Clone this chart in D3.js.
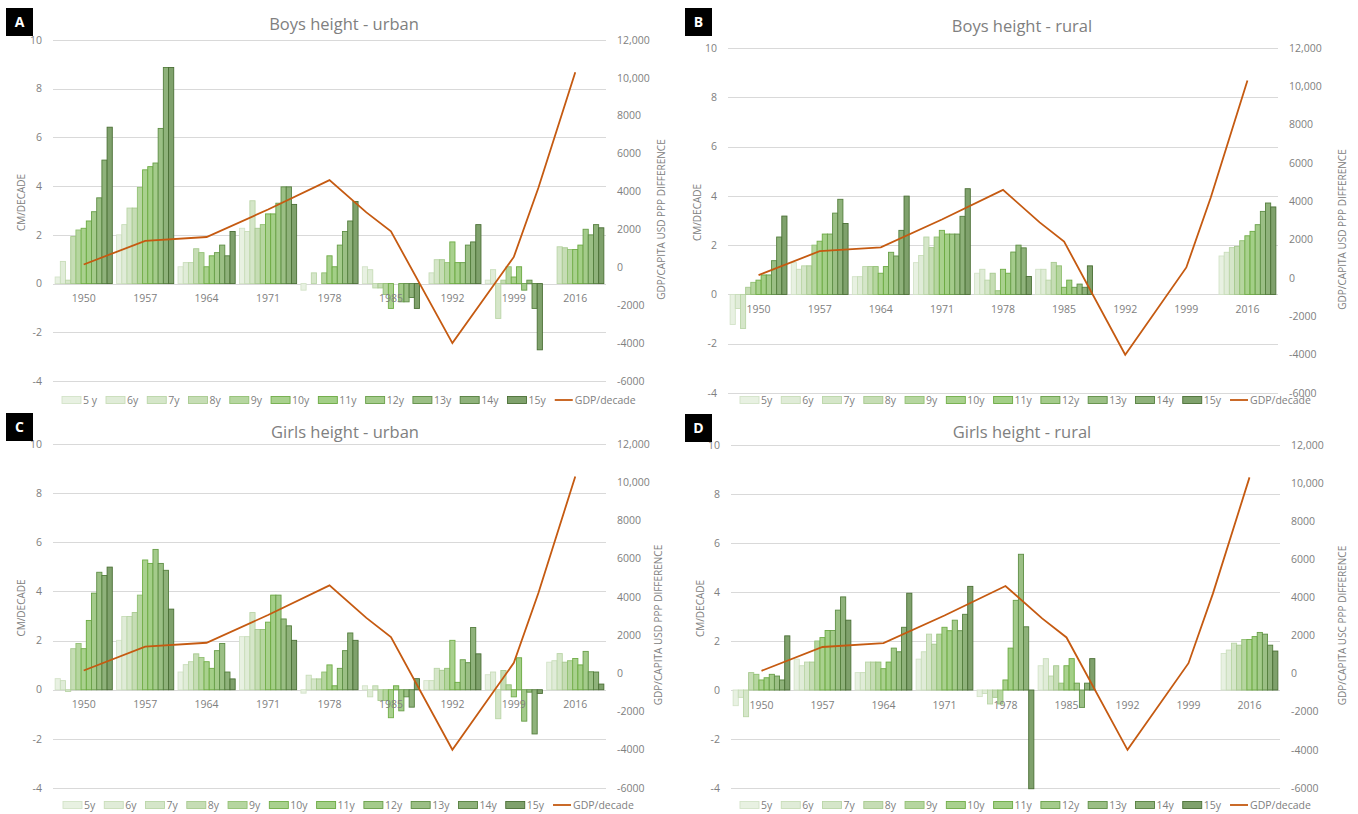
<!DOCTYPE html>
<html lang="en">
<head>
<meta charset="UTF-8">
<title>Height gain per decade vs GDP</title>
<script src="https://d3js.org/d3.v7.min.js"></script>
<style>
  body { margin: 0; background: #fff; font-family: "Open Sans", sans-serif; }
  svg text { fill: #808080; }
</style>
</head>
<body>
<svg width="1358" height="814"></svg>
<script>
const years = ["1950", "1957", "1964", "1971", "1978", "1985", "1992", "1999", "2016"];
const ages = ["5y", "6y", "7y", "8y", "9y", "10y", "11y", "12y", "13y", "14y", "15y"];
const ageLabelsA = ["5 y", "6y", "7y", "8y", "9y", "10y", "11y", "12y", "13y", "14y", "15y"];

// cm/decade, one row per survey year, one value per age (empty row = no data)
const boysUrban = [
  [0.27, 0.91, 0.14, 1.93, 2.2, 2.27, 2.57, 2.95, 3.52, 5.07, 6.42],
  [2.0, 2.42, 3.1, 3.1, 3.95, 4.67, 4.8, 4.95, 6.37, 8.87, 8.87],
  [0.69, 0.86, 0.86, 1.43, 1.27, 0.69, 1.14, 1.27, 1.58, 1.14, 2.14],
  [2.27, 2.14, 3.4, 2.27, 2.42, 2.86, 2.86, 3.3, 3.97, 3.97, 3.25],
  [-0.27, 0, 0.44, 0, 0.44, 1.14, 0.69, 1.58, 2.14, 2.57, 3.37],
  [0.69, 0.57, -0.18, -0.18, -0.45, -1.02, 0, -0.75, -0.75, -0.57, -1.02],
  [0, 0.44, 0.98, 0.98, 0.86, 1.71, 0.86, 0.86, 1.58, 1.71, 2.42],
  [0.14, 0.57, -1.43, 0.14, 0.69, 0.27, 0.69, -0.27, 0.14, -1.02, -2.72],
  [0, 0, 1.51, 1.47, 1.4, 1.4, 1.58, 2.23, 2.0, 2.42, 2.29]
];
const boysRural = [
  [-1.22, -0.57, -1.38, 0.29, 0.49, 0.58, 0.79, 0.79, 1.37, 2.33, 3.18],
  [1.29, 1.02, 1.16, 1.16, 2.0, 2.16, 2.45, 2.45, 3.3, 3.86, 2.88],
  [0.72, 0.72, 1.13, 1.13, 1.13, 0.86, 1.13, 1.71, 1.56, 2.6, 3.99],
  [1.29, 1.58, 2.33, 1.9, 2.33, 2.6, 2.45, 2.45, 2.45, 3.17, 4.29],
  [0.86, 1.02, 0.58, 0.86, 0.15, 1.02, 0.86, 1.72, 2.0, 1.89, 0.73],
  [1.02, 1.02, 0.58, 1.3, 1.16, 0.29, 0.58, 0.29, 0.42, 0.29, 1.16],
  [],
  [],
  [1.56, 1.71, 1.9, 1.95, 2.18, 2.38, 2.56, 2.83, 3.37, 3.71, 3.55]
];
const girlsUrban = [
  [0.45, 0.37, -0.07, 1.67, 1.88, 1.67, 2.82, 3.93, 4.78, 4.65, 4.99],
  [2.01, 2.98, 2.98, 3.14, 3.85, 5.28, 5.14, 5.71, 5.14, 4.86, 3.28],
  [0.72, 1.02, 1.14, 1.46, 1.31, 1.14, 0.87, 1.59, 1.88, 0.72, 0.44],
  [2.16, 2.16, 3.14, 2.45, 2.45, 2.75, 3.85, 3.85, 2.88, 2.6, 2.01],
  [-0.14, 0.59, 0.44, 0.44, 0.72, 1.01, 0.16, 0.87, 1.59, 2.31, 2.01],
  [0.16, -0.29, 0.16, -0.44, -0.44, -1.14, 0.16, -0.86, -0.29, -0.71, 0.45],
  [0.37, 0.37, 0.87, 0.79, 0.87, 2.01, 0.3, 1.22, 1.1, 2.53, 1.46],
  [0.61, 0.72, -1.18, 0.78, 0.2, -0.29, 1.3, -1.28, -0.1, -1.8, -0.15],
  [1.12, 1.18, 1.47, 1.12, 1.18, 1.27, 1.01, 1.56, 0.73, 0.72, 0.23]
];
const girlsRural = [
  [-0.64, -0.3, -1.09, 0.71, 0.64, 0.41, 0.5, 0.64, 0.57, 0.41, 2.21],
  [1.26, 0.99, 1.14, 1.14, 2.0, 2.14, 2.43, 2.43, 3.26, 3.8, 2.85],
  [0.71, 0.71, 1.14, 1.14, 1.14, 0.87, 1.14, 1.71, 1.56, 2.56, 3.95],
  [1.26, 1.56, 2.28, 1.87, 2.28, 2.56, 2.42, 2.85, 2.42, 3.09, 4.23],
  [-0.27, -0.14, -0.57, -0.3, -0.57, 0.41, 1.71, 3.66, 5.54, 2.58, -4.03],
  [0.99, 1.28, 0.57, 0.99, 0.28, 0.99, 1.28, 0.28, -0.71, 0.28, 1.28],
  [],
  [],
  [1.49, 1.63, 1.91, 1.83, 2.06, 2.06, 2.18, 2.35, 2.28, 1.83, 1.59]
];

// GDP/capita difference per decade (same line in every panel);
// position counted in category steps from 1950
const gdpAt = [0, 1, 2, 3, 4, 4.6, 5, 6, 7, 7.4, 8];
const gdpValues = [150, 1400, 1600, 3050, 4600, 2900, 1900, -4000, 550, 4200, 10300];

const cmTicks = [-4, -2, 0, 2, 4, 6, 8, 10];
const gdpTicks = [-6000, -4000, -2000, 0, 2000, 4000, 6000, 8000, 10000, 12000];

const fills = ["#e8f1e2", "#e0ecd8", "#d5e6c9", "#c6ddb5", "#b6d6a0", "#a9d18e",
               "#a3cf87", "#a4cb8b", "#9bbf85", "#8fb27b", "#7fa16c"];
const strokes = ["#d3e3c8", "#c8ddb9", "#bad5a7", "#a7c98f", "#92c073", "#70ad47",
                 "#6aa940", "#689e48", "#5e8e45", "#547e3d", "#4a6f35"];

const panels = [
  {letter: "A", title: "Boys height - urban", data: boysUrban, legend: ageLabelsA,
   gdpTitle: "GDP/CAPITA USD PPP DIFFERENCE",
   x0: 53, x1: 606, top: 40, bottom: 381, box: [6, 8], titleX: 344, titleY: 30,
   legendX: 62, legendY: 400, cmTitleX: 21, gdpTitleX: 661},
  {letter: "B", title: "Boys height - rural", data: boysRural, legend: ages,
   gdpTitle: "GDP/CAPITA USD PPP DIFFERENCE",
   x0: 728, x1: 1278, top: 48, bottom: 393, box: [685, 8], titleX: 1022, titleY: 32,
   legendX: 740, legendY: 400, cmTitleX: 697, gdpTitleX: 1342},
  {letter: "C", title: "Girls height - urban", data: girlsUrban, legend: ages,
   gdpTitle: "GDP/CAPITA USD PPP DIFFERENCE",
   x0: 53, x1: 606, top: 444, bottom: 788, box: [6, 413], titleX: 345, titleY: 438,
   legendX: 63, legendY: 805, cmTitleX: 21, gdpTitleX: 658},
  {letter: "D", title: "Girls height - rural", data: girlsRural, legend: ages,
   gdpTitle: "GDP/CAPITA USC PPP DIFFERENCE",
   x0: 731, x1: 1280, top: 445, bottom: 788, box: [685, 414], titleX: 1022, titleY: 438,
   legendX: 740, legendY: 805, cmTitleX: 700, gdpTitleX: 1342}
];

const svg = d3.select("svg");
const gdpFormat = v => Math.abs(v) >= 10000 ? d3.format(",")(v) : String(v);

panels.forEach(p => {
  const g = svg.append("g");

  const x = d3.scaleBand().domain(years).range([p.x0, p.x1])
    .paddingInner(0.07).paddingOuter(0.035);
  const xAge = d3.scaleBand().domain(ages).range([0, x.bandwidth()]);
  const y = d3.scaleLinear().domain([-4, 10]).range([p.bottom, p.top]);
  const yGdp = d3.scaleLinear().domain([-6000, 12000]).range([p.bottom, p.top]);

  // gridlines
  g.append("g").selectAll("line").data(cmTicks).join("line")
    .attr("x1", p.x0).attr("x2", p.x1)
    .attr("y1", d => Math.round(y(d)) + 0.5).attr("y2", d => Math.round(y(d)) + 0.5)
    .attr("stroke", "#d9d9d9").attr("stroke-width", 1);

  // left axis labels
  g.append("g").selectAll("text").data(cmTicks).join("text")
    .attr("x", p.x0 - 11).attr("y", d => y(d)).attr("dy", "0.35em")
    .attr("text-anchor", "end").attr("font-size", "10.5px").text(d => d);

  // right axis labels
  g.append("g").selectAll("text").data(gdpTicks).join("text")
    .attr("x", p.x1 + 11).attr("y", d => yGdp(d)).attr("dy", "0.35em")
    .attr("text-anchor", "start").attr("font-size", "10.5px").text(gdpFormat);

  // bars
  const groups = g.append("g").selectAll("g").data(years).join("g")
    .attr("transform", d => `translate(${x(d)},0)`);
  groups.selectAll("rect")
    .data((d, i) => p.data[i].map((v, j) => ({v, j})).filter(e => e.v != null && e.v !== 0))
    .join("rect")
    .attr("x", e => xAge(ages[e.j]))
    .attr("width", xAge.bandwidth())
    .attr("y", e => y(Math.max(e.v, 0)))
    .attr("height", e => Math.abs(y(e.v) - y(0)))
    .attr("fill", e => fills[e.j])
    .attr("stroke", e => strokes[e.j])
    .attr("stroke-width", 0.9);

  // category labels
  g.append("g").selectAll("text").data(years).join("text")
    .attr("x", d => x(d) + x.bandwidth() / 2).attr("y", y(0) + 15).attr("dy", "0.35em")
    .attr("text-anchor", "middle").attr("font-size", "10.5px").text(d => d);

  // GDP line
  const gx = i => x(years[0]) + x.bandwidth() / 2 + i * x.step();
  g.append("path")
    .datum(gdpAt.map((a, i) => [gx(a), yGdp(gdpValues[i])]))
    .attr("d", d3.line())
    .attr("fill", "none").attr("stroke", "#c55a11").attr("stroke-width", 1.8);

  // titles
  g.append("text").attr("x", p.titleX).attr("y", p.titleY)
    .attr("text-anchor", "middle").attr("font-size", "16.5px").attr("fill", "#7a7a7a")
    .text(p.title);
  const midY = (p.top + p.bottom) / 2;
  g.append("text")
    .attr("transform", `translate(${p.cmTitleX},${midY - 8}) rotate(-90)`)
    .attr("dy", "0.35em").attr("text-anchor", "middle").attr("font-size", "10px")
    .text("CM/DECADE");
  g.append("text")
    .attr("transform", `translate(${p.gdpTitleX},${midY + 9}) rotate(-90)`)
    .attr("dy", "0.35em").attr("text-anchor", "middle").attr("font-size", "10px")
    .text(p.gdpTitle);

  // legend
  const leg = g.append("g");
  let lx = p.legendX;
  p.legend.forEach((name, j) => {
    leg.append("rect").attr("x", lx).attr("y", p.legendY - 3.5)
      .attr("width", 19).attr("height", 7)
      .attr("fill", fills[j]).attr("stroke", strokes[j]).attr("stroke-width", 0.9);
    const t = leg.append("text").attr("x", lx + 21).attr("y", p.legendY).attr("dy", "0.35em")
      .attr("font-size", "10.5px").text(name);
    lx += 21 + t.node().getComputedTextLength() + 9;
  });
  leg.append("line").attr("x1", lx).attr("x2", lx + 18)
    .attr("y1", p.legendY).attr("y2", p.legendY)
    .attr("stroke", "#c55a11").attr("stroke-width", 1.8);
  leg.append("text").attr("x", lx + 20).attr("y", p.legendY).attr("dy", "0.35em")
    .attr("font-size", "10.5px").text("GDP/decade");

  // panel letter
  g.append("rect").attr("x", p.box[0]).attr("y", p.box[1])
    .attr("width", 27).attr("height", 28).attr("fill", "#000");
  g.append("text").attr("x", p.box[0] + 13.5).attr("y", p.box[1] + 14).attr("dy", "0.36em")
    .attr("text-anchor", "middle").attr("font-size", "14px").attr("font-weight", "bold")
    .style("fill", "#fff").text(p.letter);
});
</script>
</body>
</html>
